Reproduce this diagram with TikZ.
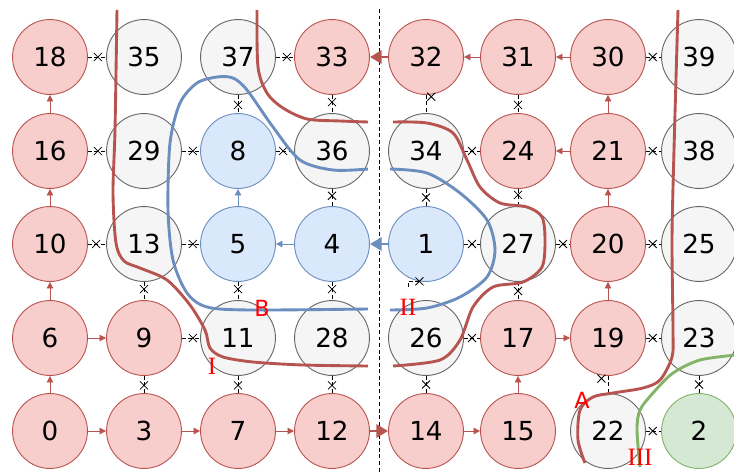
\documentclass[tikz,border=0pt]{standalone}
\usepackage{fontspec}
\setmainfont{DejaVu Sans}
\newfontfamily\romanfont{Liberation Serif}
\usepackage{tikz}
\usetikzlibrary{arrows.meta, shapes.misc}

\definecolor{redfill}{HTML}{F8CECC}
\definecolor{redline}{HTML}{B85450}
\definecolor{bluefill}{HTML}{DAE8FC}
\definecolor{blueline}{HTML}{6C8EBF}
\definecolor{grayfill}{HTML}{F5F5F5}
\definecolor{grayline}{HTML}{666666}
\definecolor{greenfill}{HTML}{D5E8D4}
\definecolor{greenline}{HTML}{82B366}

\begin{document}
\begin{tikzpicture}[x=0.02682cm, y=-0.02682cm,
    cell/.style={circle, minimum size=2.01cm, inner sep=0pt, line width=0.7pt,
                 font=\fontsize{20}{23}\selectfont},
    redcell/.style={cell, draw=redline, fill=redfill},
    bluecell/.style={cell, draw=blueline, fill=bluefill},
    graycell/.style={cell, draw=grayline, fill=grayfill},
    greencell/.style={cell, draw=greenline, fill=greenfill},
    blocked/.style={densely dashed, line width=0.6pt},
    cross/.style={draw, solid, cross out, minimum size=5.5pt, inner sep=0pt, line width=0.6pt},
    flow/.style={-{Triangle[length=5pt, width=5pt]}, line width=0.7pt},
    bigflow/.style={-{Triangle[length=9pt, width=10pt]}, line width=2.2pt},
    cut/.style={line width=2.2pt, smooth},
    tag/.style={text=red, inner sep=0pt}]

            \useasboundingbox (0,0) rectangle (734,473);

            % 分界线
            \draw[densely dashed, line width=0.6pt] (379,9) -- (379,473);

            % 第一行
            \node[redcell] (n18) at (50,57) {18};
            \node[graycell] (n35) at (144,57) {35};
            \node[graycell] (n37) at (238,57) {37};
            \node[redcell] (n33) at (332,57) {33};
            \node[redcell] (n32) at (426,57) {32};
            \node[redcell] (n31) at (518,57) {31};
            \node[redcell] (n30) at (608,57) {30};
            \node[graycell] (n39) at (699,57) {39};

            % 第二行
            \node[redcell] (n16) at (50,151) {16};
            \node[graycell] (n29) at (144,151) {29};
            \node[bluecell] (n8) at (238,151) {8};
            \node[graycell] (n36) at (332,151) {36};
            \node[graycell] (n34) at (426,151) {34};
            \node[redcell] (n24) at (518,151) {24};
            \node[redcell] (n21) at (608,151) {21};
            \node[graycell] (n38) at (699,151) {38};

            % 第三行
            \node[redcell] (n10) at (50,244) {10};
            \node[graycell] (n13) at (144,244) {13};
            \node[bluecell] (n5) at (238,244) {5};
            \node[bluecell] (n4) at (332,244) {4};
            \node[bluecell] (n1) at (426,244) {1};
            \node[graycell] (n27) at (518,244) {27};
            \node[redcell] (n20) at (608,244) {20};
            \node[graycell] (n25) at (699,244) {25};

            % 第四行
            \node[redcell] (n6) at (50,338) {6};
            \node[redcell] (n9) at (144,338) {9};
            \node[graycell] (n11) at (238,338) {11};
            \node[graycell] (n28) at (332,338) {28};
            \node[graycell] (n26) at (426,338) {26};
            \node[redcell] (n17) at (518,338) {17};
            \node[redcell] (n19) at (608,338) {19};
            \node[graycell] (n23) at (699,338) {23};

            % 第五行
            \node[redcell] (n0) at (50,431) {0};
            \node[redcell] (n3) at (144,431) {3};
            \node[redcell] (n7) at (238,431) {7};
            \node[redcell] (n12) at (332,431) {12};
            \node[redcell] (n14) at (426,431) {14};
            \node[redcell] (n15) at (518,431) {15};
            \node[graycell] (n22) at (608,431) {22};
            \node[greencell] (n2) at (699,431) {2};

            % 红色路径
            \draw[flow, redline] (n0) -- (n3);
            \draw[flow, redline] (n3) -- (n7);
            \draw[flow, redline] (n7) -- (n12);
            \draw[bigflow, redline] (n12) -- (n14);
            \draw[flow, redline] (n14) -- (n15);
            \draw[flow, redline] (n0) -- (n6);
            \draw[flow, redline] (n6) -- (n10);
            \draw[flow, redline] (n10) -- (n16);
            \draw[flow, redline] (n16) -- (n18);
            \draw[flow, redline] (n6) -- (n9);
            \draw[flow, redline] (n15) -- (n17);
            \draw[flow, redline] (n17) -- (n19);
            \draw[flow, redline] (n19) -- (n20);
            \draw[flow, redline] (n20) -- (n21);
            \draw[flow, redline] (n21) -- (n30);
            \draw[flow, redline] (n21) -- (n24);
            \draw[flow, redline] (n30) -- (n31);
            \draw[flow, redline] (n31) -- (n32);
            \draw[bigflow, redline] (n32) -- (n33);

            % 蓝色路径
            \draw[bigflow, blueline] (n1) -- (n4);
            \draw[flow, blueline] (n4) -- (n5);
            \draw[flow, blueline] (n5) -- (n8);

            % 不通的边
            \draw[blocked] (n18) -- node[cross, pos=0.55] {} (n35);
            \draw[blocked] (n37) -- node[cross, pos=0.6] {} (n33);
            \draw[blocked] (n30) -- node[cross, pos=0.45] {} (n39);
            \draw[blocked] (n16) -- node[cross, pos=0.55] {} (n29);
            \draw[blocked] (n29) -- node[cross, pos=0.6] {} (n8);
            \draw[blocked] (n8) -- node[cross, pos=0.4] {} (n36);
            \draw[blocked] (n34) -- node[cross] {} (n24);
            \draw[blocked] (n21) -- node[cross, pos=0.45] {} (n38);
            \draw[blocked] (n10) -- node[cross, pos=0.45] {} (n13);
            \draw[blocked] (n13) -- node[cross, pos=0.6] {} (n5);
            \draw[blocked] (n1) -- node[cross] {} (n27);
            \draw[blocked] (n27) -- node[cross] {} (n20);
            \draw[blocked] (n20) -- node[cross, pos=0.45] {} (n25);
            \draw[blocked] (n9) -- node[cross, pos=0.6] {} (n11);
            \draw[blocked] (n26) -- node[cross] {} (n17);
            \draw[blocked] (n19) -- node[cross, pos=0.45] {} (n23);
            \draw[blocked] (n22) -- node[cross, pos=0.45] {} (n2);
            \draw[blocked] (n37) -- node[cross, pos=0.55] {} (n8);
            \draw[blocked] (n33) -- node[cross, pos=0.4] {} (n36);
            \draw[blocked] (n36) -- node[cross, pos=0.4] {} (n4);
            \draw[blocked] (n32) -- node[cross, pos=0.1, xshift=4pt] {} (n34);
            \draw[blocked] (n31) -- node[cross, pos=0.55] {} (n24);
            \draw[blocked] (n34) -- node[cross] {} (n1);
            \draw[blocked] (n24) -- node[cross, pos=0.35] {} (n27);
            \draw[blocked] (n13) -- node[cross, pos=0.4] {} (n9);
            \draw[blocked] (n5) -- node[cross, pos=0.4] {} (n11);
            \draw[blocked] (n4) -- node[cross, pos=0.4] {} (n28);
            \draw[blocked] (n27) -- node[cross] {} (n17);
            \draw[blocked] (n9) -- node[cross, pos=0.55] {} (n3);
            \draw[blocked] (n11) -- node[cross, pos=0.55] {} (n7);
            \draw[blocked] (n28) -- node[cross, pos=0.55] {} (n12);
            \draw[blocked] (n26) -- node[cross] {} (n14);
            \draw[blocked] (n19) -- node[cross, pos=0.15, xshift=-5pt] {} (n22);
            \draw[blocked] (n23) -- node[cross] {} (n2);
            \draw[blocked] (n1.260) node[cross] {} -- ++(-11,0) -- ++(0,8);

            % 割线
            \draw[cut, redline] plot coordinates {(117,10) (115,130) (113,193) (116,243) (124,261) (140,268) (167,280) (190,305) (205,330) (210,348) (223,357) (253,362) (303,365) (368,366)};
            \draw[cut, redline] plot coordinates {(257,10) (258,67) (267,93) (283,108) (307,119) (340,121) (368,122)};
            \draw[cut, redline] plot coordinates {(393,122) (427,123) (453,133) (467,160) (480,187) (500,203) (527,207) (542,217) (545,240) (542,267) (523,282) (493,287) (473,307) (460,340) (440,360) (393,366)};
            \draw[cut, blueline] plot coordinates {(368,169) (333,170) (300,160) (273,127) (247,90) (233,78) (217,77) (197,83) (180,103) (170,143) (168,210) (173,260) (187,293) (207,307) (250,310) (368,309)};
            \draw[cut, blueline] plot coordinates {(390,169) (427,173) (460,193) (487,220) (495,250) (487,277) (460,297) (427,308) (390,310)};
            \draw[cut, redline] plot coordinates {(678,10) (674,150) (672,240) (673,330) (672,357) (660,380) (643,388) (613,393) (593,397) (580,410) (578,440) (585,463)};
            \draw[cut, greenline] plot coordinates {(736,355) (700,360) (673,373) (653,393) (640,410) (637,430) (640,467)};

            % 标签
            \node[tag, font=\fontsize{17}{20}\selectfont] (labB) at (262,308) {B};
            \node[tag, font=\fontsize{17}{20}\selectfont] (labA) at (582,400) {A};
            \node[tag, font=\romanfont\fontsize{19}{22}\selectfont] (labI) at (212,366) {I};
            \node[tag, font=\romanfont\fontsize{19}{22}\selectfont] (labII) at (408,307) {II};
            \node[tag, font=\romanfont\fontsize{19}{22}\selectfont] (labIII) at (640,457) {III};

            \end{tikzpicture}
\end{document}
